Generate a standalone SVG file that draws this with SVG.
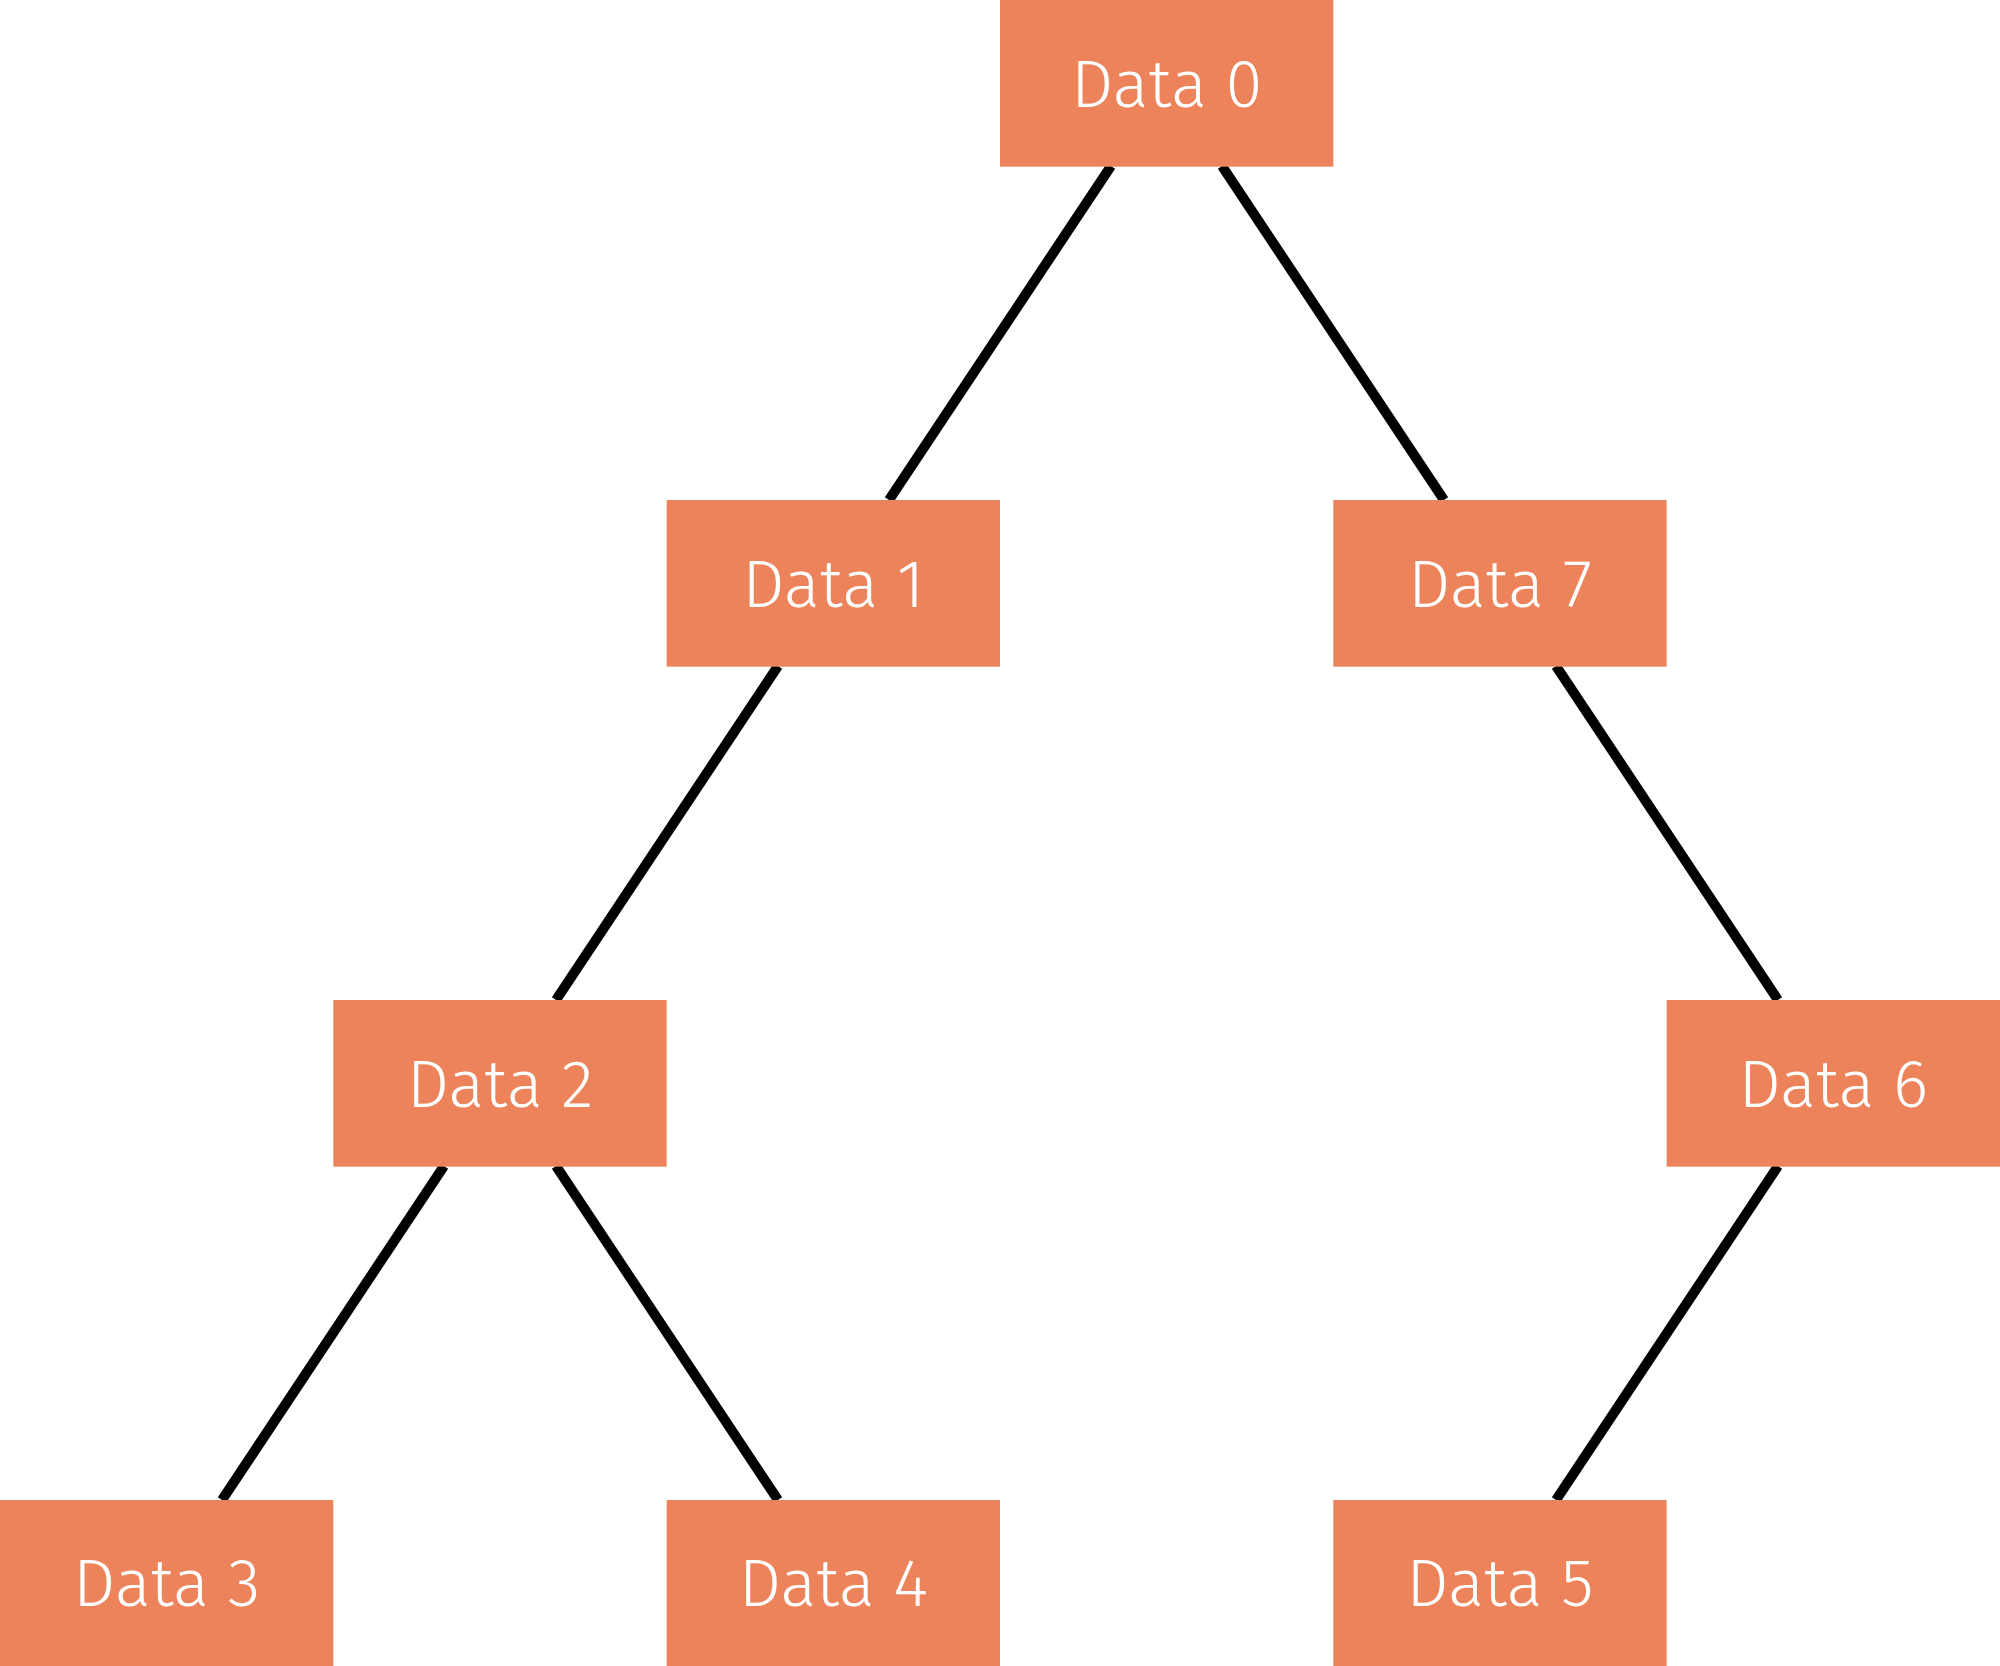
<svg xmlns="http://www.w3.org/2000/svg" width="2000" height="1666" viewBox="0 0 2000 1666">
<style>
.n{fill:#EC835B}
.t{fill:#FFFFFF;font-family:"Fira Sans",Lato,"Open Sans","Liberation Sans",sans-serif;font-weight:300;font-size:67px;text-anchor:middle}
.e{stroke:#000000;stroke-width:10;fill:none;stroke-linecap:butt}
</style>
<rect width="2000" height="1666" fill="#FFFFFF"/>
<g id="edges">
<line class="e" x1="1111" y1="166" x2="889" y2="500"/>
<line class="e" x1="1222" y1="166" x2="1444" y2="500"/>
<line class="e" x1="778" y1="666" x2="556" y2="1000"/>
<line class="e" x1="1556" y1="666" x2="1778" y2="1000"/>
<line class="e" x1="444" y1="1166" x2="222" y2="1500"/>
<line class="e" x1="556" y1="1166" x2="778" y2="1500"/>
<line class="e" x1="1778" y1="1166" x2="1556" y2="1500"/>
</g>
<g id="node0"><rect class="n" x="1000" y="0" width="333.3" height="166.7"/><text class="t" x="1166.7" y="107">Data 0</text></g>
<g id="node1"><rect class="n" x="666.7" y="500" width="333.3" height="166.7"/><text class="t" x="833.3" y="607">Data 1</text></g>
<g id="node7"><rect class="n" x="1333.3" y="500" width="333.3" height="166.7"/><text class="t" x="1500" y="607">Data 7</text></g>
<g id="node2"><rect class="n" x="333.3" y="1000" width="333.3" height="166.7"/><text class="t" x="500" y="1107">Data 2</text></g>
<g id="node6"><rect class="n" x="1666.7" y="1000" width="333.3" height="166.7"/><text class="t" x="1833.3" y="1107">Data 6</text></g>
<g id="node3"><rect class="n" x="0" y="1500" width="333.3" height="166.7"/><text class="t" x="166.7" y="1606">Data 3</text></g>
<g id="node4"><rect class="n" x="666.7" y="1500" width="333.3" height="166.7"/><text class="t" x="833.3" y="1606">Data 4</text></g>
<g id="node5"><rect class="n" x="1333.3" y="1500" width="333.3" height="166.7"/><text class="t" x="1500" y="1606">Data 5</text></g>
</svg>
